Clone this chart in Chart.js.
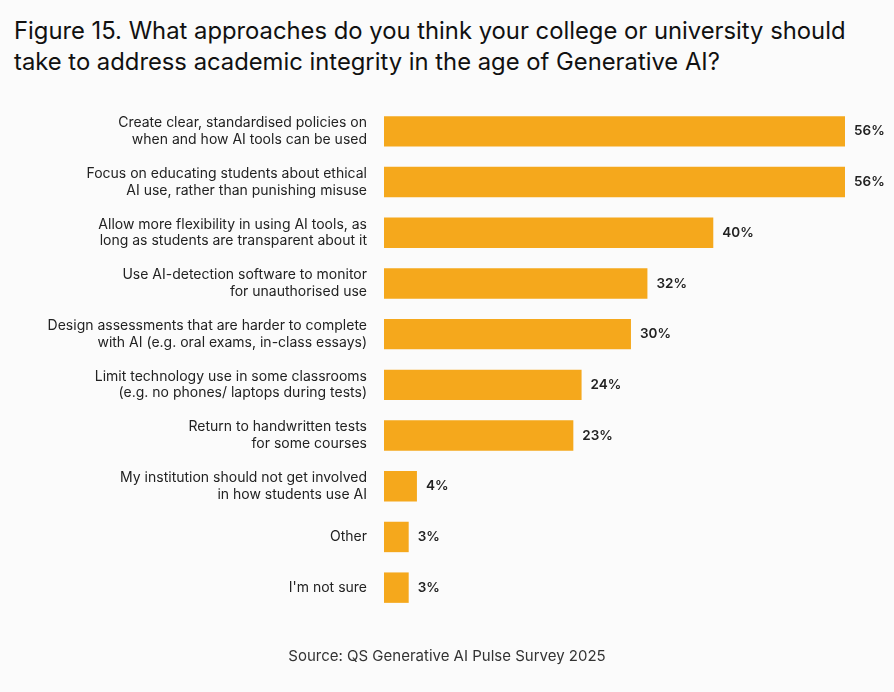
<!DOCTYPE html>
<html>
<head>
<meta charset="utf-8">
<script src="https://cdn.jsdelivr.net/npm/chart.js@4"></script>
<style>
  body { margin: 0; background: #fbfbfb; font-family: Inter, "Noto Sans", sans-serif; }
  #wrap { position: relative; width: 894px; height: 692px; }
  #title { position: absolute; left: 14px; top: 15px; font-size: 23.8px; line-height: 31px; color: #111; }
  #source { position: absolute; left: 0; width: 894px; top: 646px; text-align: center; font-size: 15px; color: #333; }
  canvas { position: absolute; left: 0; top: 0; }
</style>
</head>
<body>
<div id="wrap">
  <div id="title">Figure 15. What approaches do you think your college or university should<br>take to address academic integrity in the age of Generative AI?</div>
  <canvas id="barChart" width="894" height="692"></canvas>
  <div id="source">Source: QS Generative AI Pulse Survey 2025</div>
</div>
<script>
const approachLabels = [
  ["Create clear, standardised policies on", "when and how AI tools can be used"],
  ["Focus on educating students about ethical", "AI use, rather than punishing misuse"],
  ["Allow more flexibility in using AI tools, as", "long as students are transparent about it"],
  ["Use AI-detection software to monitor", "for unauthorised use"],
  ["Design assessments that are harder to complete", "with AI (e.g. oral exams, in-class essays)"],
  ["Limit technology use in some classrooms", "(e.g. no phones/ laptops during tests)"],
  ["Return to handwritten tests", "for some courses"],
  ["My institution should not get involved", "in how students use AI"],
  "Other",
  "I'm not sure"
];
const approachValues = [56, 56, 40, 32, 30, 24, 23, 4, 3, 3];

// draws the % value at the end of each bar
const valueLabels = {
  id: "valueLabels",
  afterDatasetsDraw(chart) {
    const ctx = chart.ctx;
    ctx.save();
    ctx.font = "600 13.5px Inter, 'Noto Sans', sans-serif";
    ctx.fillStyle = "#222";
    ctx.textBaseline = "middle";
    chart.getDatasetMeta(0).data.forEach((bar, i) => {
      ctx.fillText(approachValues[i] + "%", bar.x + 9, bar.y);
    });
    ctx.restore();
  }
};

new Chart(document.getElementById("barChart"), {
  type: "bar",
  data: {
    labels: approachLabels,
    datasets: [{
      data: approachValues,
      backgroundColor: "#f5a81c",
      categoryPercentage: 1,
      barPercentage: 0.6
    }]
  },
  options: {
    indexAxis: "y",
    responsive: false,
    animation: false,
    layout: { padding: { left: 0, right: 49, top: 106, bottom: 79 } },
    plugins: { legend: { display: false }, tooltip: { enabled: false } },
    scales: {
      x: { display: false, min: 0, max: 56 },
      y: {
        afterFit(scale) { scale.width = 384; },
        grid: { display: false },
        border: { display: false },
        ticks: {
          padding: 9,
          color: "#222",
          font: { size: 14, family: "Inter, 'Noto Sans', sans-serif" }
        }
      }
    }
  },
  plugins: [valueLabels]
});
</script>
</body>
</html>
